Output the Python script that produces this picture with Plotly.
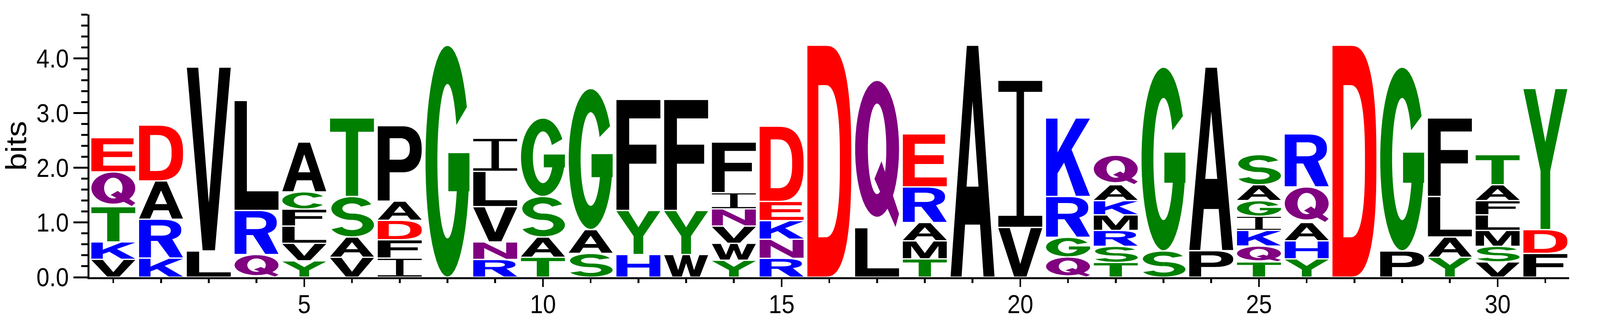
import numpy as np
import plotly.graph_objects as go

# ---------------- data (bottom -> top within each column) ----------------
positions = list(range(1, 32))
col_letters = ["VKTQE", "KRAD", "LV", "QRL", "YVLFCA", "VAST", "IFDAP", "G",
               "RNVLI", "TASG", "SAG", "HYF", "WYF", "YWVNIF", "RNKED", "D",
               "LQ", "TMARE", "A", "VI", "QGRK", "TSRMKAQ", "SG", "PA",
               "TQKIGAS", "YHAQR", "D", "PG", "YALF", "VSMLFAT", "FDY"]
col_heights = [
    [0.327, 0.318, 0.645, 0.635, 0.625],
    [0.35, 0.71, 0.70, 1.02],
    [0.48, 3.36],
    [0.415, 0.805, 2.01],
    [0.30, 0.32, 0.315, 0.31, 0.315, 0.91],
    [0.365, 0.37, 0.74, 1.435],
    [0.35, 0.335, 0.355, 0.35, 1.38],
    [4.24],
    [0.325, 0.32, 0.645, 0.645, 0.605],
    [0.365, 0.37, 0.74, 1.435],
    [0.435, 0.435, 2.58],
    [0.415, 0.805, 2.03],
    [0.415, 0.805, 2.03],
    [0.31, 0.31, 0.315, 0.315, 0.295, 0.925],
    [0.345, 0.35, 0.34, 0.35, 1.375],
    [4.24],
    [0.905, 2.695],
    [0.335, 0.33, 0.335, 0.65, 0.97],
    [4.24],
    [0.91, 2.69],
    [0.37, 0.36, 0.745, 1.435],
    [0.27, 0.295, 0.29, 0.285, 0.26, 0.29, 0.54],
    [0.48, 3.36],
    [0.485, 3.355],
    [0.28, 0.29, 0.285, 0.26, 0.285, 0.29, 0.55],
    [0.335, 0.33, 0.335, 0.65, 0.97],
    [4.24],
    [0.48, 3.36],
    [0.365, 0.37, 0.74, 1.435],
    [0.28, 0.285, 0.29, 0.285, 0.26, 0.29, 0.55],
    [0.435, 0.435, 2.58],
]
y_tick_step = 1.0
x_tick_step = 5
y_max = 4.8

colors = {}
for aa in "DE":
    colors[aa] = "#FF0000"
for aa in "KRH":
    colors[aa] = "#0000FF"
for aa in "GSTYC":
    colors[aa] = "#008000"
for aa in "NQ":
    colors[aa] = "#800080"
for aa in "AVLIPWFM":
    colors[aa] = "#000000"

# ---------------- glyph outlines in a unit box ----------------
def sarc(cx, cy, rx, ry, a0, a1, n=2.0, k=48):
    t = np.radians(np.linspace(a0, a1, k))
    c, s = np.cos(t), np.sin(t)
    e = 2.0 / n
    x = cx + rx * np.sign(c) * np.abs(c) ** e
    y = cy + ry * np.sign(s) * np.abs(s) ** e
    return list(zip(x, y))

def rect(x0, y0, x1, y1):
    return [(x0, y0), (x1, y0), (x1, y1), (x0, y1)]

def ring_sector(cx, cy, rxo, ryo, rxi, ryi, a0, a1, n=2.0):
    return sarc(cx, cy, rxo, ryo, a0, a1, n) + sarc(cx, cy, rxi, ryi, a1, a0, n)

GLYPHS = {}
GLYPHS['A'] = [[[(0, 0), (0.37, 1), (0.63, 1), (1, 0), (0.75, 0), (0.67, 0.225),
                 (0.33, 0.225), (0.25, 0)],
                [(0.363, 0.39), (0.637, 0.39), (0.5, 0.76)]]]
GLYPHS['C'] = [[ring_sector(0.5, 0.5, 0.5, 0.5, 0.24, 0.33, 32, 328)]]
GLYPHS['D'] = [[[(0, 0), (0, 1)] + sarc(0.42, 0.5, 0.58, 0.5, 90, -90, 2.6),
                [(0.25, 0.17), (0.25, 0.83)] + sarc(0.40, 0.5, 0.34, 0.33, 90, -90, 2.6)]]
GLYPHS['E'] = [[[(0, 0), (0, 1), (0.96, 1), (0.96, 0.82), (0.27, 0.82), (0.27, 0.6),
                 (0.93, 0.6), (0.93, 0.43), (0.27, 0.43), (0.27, 0.17), (1, 0.17), (1, 0)]]]
GLYPHS['F'] = [[[(0, 0), (0, 1), (1, 1), (1, 0.833), (0.29, 0.833), (0.29, 0.593),
                 (0.91, 0.593), (0.91, 0.42), (0.29, 0.42), (0.29, 0)]]]
GLYPHS['G'] = [[ring_sector(0.5, 0.5, 0.5, 0.5, 0.23, 0.335, 28, 360)],
               [rect(0.52, 0.37, 1.0, 0.535)]]
GLYPHS['H'] = [[[(0, 0), (0, 1), (0.25, 1), (0.25, 0.6), (0.75, 0.6), (0.75, 1), (1, 1),
                 (1, 0), (0.75, 0), (0.75, 0.42), (0.25, 0.42), (0.25, 0)]]]
GLYPHS['I'] = [[[(0, 0), (1, 0), (1, 0.075), (0.585, 0.075), (0.585, 0.925), (1, 0.925),
                 (1, 1), (0, 1), (0, 0.925), (0.415, 0.925), (0.415, 0.075), (0, 0.075)]]]
GLYPHS['K'] = [[[(0, 0), (0, 1), (0.26, 1), (0.26, 0.56), (0.68, 1), (1, 1), (0.58, 0.6),
                 (1, 0), (0.68, 0), (0.41, 0.43), (0.26, 0.29), (0.26, 0)]]]
GLYPHS['L'] = [[[(0, 0), (0, 1), (0.28, 1), (0.28, 0.17), (1, 0.17), (1, 0)]]]
GLYPHS['M'] = [[[(0, 0), (0, 1), (0.3, 1), (0.5, 0.3), (0.7, 1), (1, 1), (1, 0), (0.81, 0),
                 (0.81, 0.74), (0.6, 0), (0.4, 0), (0.19, 0.74), (0.19, 0)]]]
GLYPHS['N'] = [[[(0, 0), (0, 1), (0.25, 1), (0.75, 0.34), (0.75, 1), (1, 1), (1, 0),
                 (0.75, 0), (0.25, 0.66), (0.25, 0)]]]
GLYPHS['P'] = [[[(0, 0), (0, 1), (0.55, 1)] + sarc(0.55, 0.69, 0.45, 0.31, 90, -90, 2.4)
                + [(0.27, 0.38), (0.27, 0)],
                [(0.27, 0.55), (0.27, 0.84), (0.5, 0.84)] + sarc(0.5, 0.695, 0.23, 0.145, 90, -90, 2.4)]]
GLYPHS['Q'] = [[sarc(0.5, 0.535, 0.5, 0.465, 0, 360), sarc(0.5, 0.535, 0.21, 0.31, 360, 0)],
               [[(0.44, 0.33), (0.6, 0.45), (1.0, 0.09), (0.92, 0.0)]]]
GLYPHS['R'] = [[[(0, 0), (0, 1), (0.52, 1)] + sarc(0.52, 0.73, 0.44, 0.27, 90, -62, 2.4)
                + [(1.0, 0.0), (0.7, 0.0), (0.42, 0.44), (0.27, 0.44), (0.27, 0)],
                [(0.27, 0.58), (0.27, 0.85), (0.5, 0.85)] + sarc(0.5, 0.715, 0.22, 0.135, 90, -90, 2.4)]]
GLYPHS['S'] = [[ring_sector(0.5, 0.71, 0.47, 0.29, 0.22, 0.13, 22, 270)],
               [ring_sector(0.5, 0.29, 0.5, 0.29, 0.24, 0.13, 90, -158)]]
GLYPHS['T'] = [[[(0, 1), (1, 1), (1, 0.83), (0.64, 0.83), (0.64, 0), (0.36, 0),
                 (0.36, 0.83), (0, 0.83)]]]
GLYPHS['V'] = [[[(0, 1), (0.26, 1), (0.5, 0.26), (0.74, 1), (1, 1), (0.64, 0), (0.36, 0)]]]
GLYPHS['W'] = [[[(0, 1), (0.2, 1), (0.32, 0.3), (0.42, 1), (0.58, 1), (0.68, 0.3), (0.8, 1),
                 (1, 1), (0.81, 0), (0.6, 0), (0.5, 0.62), (0.4, 0), (0.19, 0)]]]
GLYPHS['Y'] = [[[(0, 1), (0.27, 1), (0.5, 0.62), (0.73, 1), (1, 1), (0.61, 0.415),
                 (0.61, 0), (0.39, 0), (0.39, 0.415)]]]

GLYPH_W = 0.92
GAP = 0.012

def contour_path(pts, xc, y0, h):
    out = []
    for i, (u, v) in enumerate(pts):
        X = xc + (u - 0.5) * GLYPH_W
        Y = y0 + v * h
        out.append(("M" if i == 0 else "L") + f"{X:.4f},{Y:.4f}")
    return "".join(out) + "Z"

shapes = []
for pos, letters, heights in zip(positions, col_letters, col_heights):
    base = 0.0
    for aa, hgt in zip(letters, heights):
        y0 = base + GAP
        h = hgt - 2 * GAP
        for piece in GLYPHS[aa]:
            path = "".join(contour_path(c, pos, y0, h) for c in piece)
            shapes.append(dict(type="path", xref="x", yref="y", path=path,
                               fillcolor=colors[aa], line=dict(width=0),
                               fillrule="evenodd", layer="above"))
        base += hgt

fig = go.Figure()
fig.add_trace(go.Scatter(x=[positions[0], positions[-1]], y=[0, 0], mode="markers",
                         marker=dict(size=1, opacity=0), hoverinfo="skip", showlegend=False))

FONT = "Liberation Sans, Arial, Helvetica, sans-serif"
tick_font = dict(family=FONT, size=66, color="black")
fig.update_layout(
    width=4525, height=817,
    margin=dict(l=253, r=87, t=37, b=107, autoexpand=False),
    paper_bgcolor="white", plot_bgcolor="white",
    shapes=shapes, showlegend=False,
    xaxis=dict(range=[0.5, 31.5], showline=True, linecolor="black", linewidth=5,
               ticks="outside", tickmode="linear", tick0=0, dtick=x_tick_step,
               ticklen=20, tickwidth=5, tickcolor="black", tickfont=tick_font,
               ticklabelstandoff=-12,
               showgrid=False, zeroline=False,
               minor=dict(ticks="outside", tick0=0, dtick=1, ticklen=10, tickwidth=5,
                          tickcolor="black", showgrid=False)),
    yaxis=dict(range=[0, y_max + 0.002], showline=True, linecolor="black", linewidth=5,
               ticks="outside", tickmode="linear", tick0=0, dtick=y_tick_step,
               tickformat=".1f", ticklen=40, tickwidth=5, tickcolor="black",
               tickfont=tick_font, showgrid=False, zeroline=False,
               minor=dict(ticks="outside", tick0=0, dtick=0.2, ticklen=18, tickwidth=5,
                          tickcolor="black", showgrid=False),
               title=dict(text="bits", standoff=24,
                          font=dict(family=FONT, size=82, color="black"))),
)

# stretch the 4525x817 figure so it fills exactly the viewport the browser reports
post = (
    "document.documentElement.style.margin='0';"
    "document.body.style.margin='0';"
    "document.documentElement.style.overflow='hidden';"
    "document.body.style.overflow='hidden';"
    "var gd = document.getElementById('{plot_id}');"
    "var sx = window.innerWidth / 4525;"
    "var sy = window.innerHeight / 817;"
    "if (Math.abs(sx - 1) > 0.002 || Math.abs(sy - 1) > 0.002) gd.style.transformOrigin = '0 0';"
    "if (Math.abs(sx - 1) > 0.002 || Math.abs(sy - 1) > 0.002) gd.style.transform = 'scale(' + sx + ',' + sy + ')';"
)
fig.write_html("out.html", post_script=post, config={"displayModeBar": False})
